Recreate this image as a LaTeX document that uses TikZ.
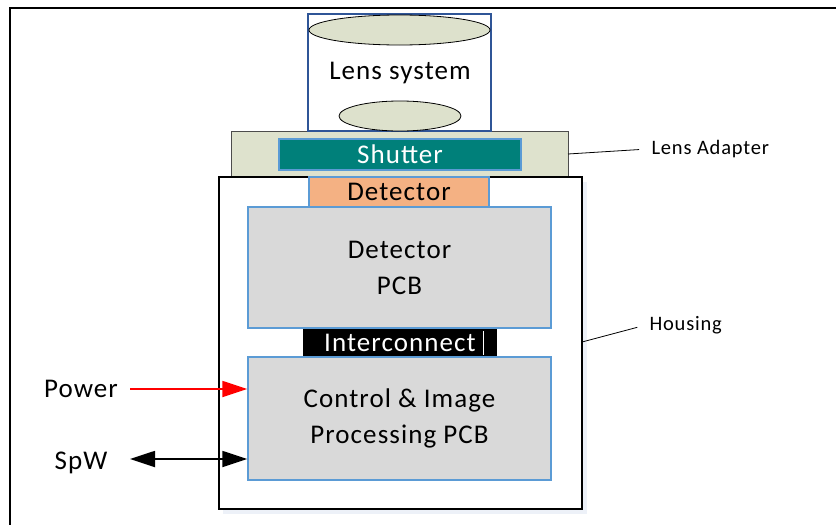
\documentclass[tikz,border=0pt]{standalone}
\usepackage{fontspec}
\setmainfont{Carlito}[LetterSpace=4]
\usetikzlibrary{arrows.meta,shapes.geometric}
\definecolor{lensblue}{HTML}{2F5597}
\definecolor{lensgrey}{HTML}{DDE1CC}
\definecolor{adaptfill}{HTML}{DEE2CD}
\definecolor{shutterteal}{HTML}{00807A}
\definecolor{edgeblue}{HTML}{5B9BD5}
\definecolor{detorange}{HTML}{F4B183}
\definecolor{pcbgrey}{HTML}{D9D9D9}
\definecolor{shadowtint}{HTML}{EDF1F8}
\tikzset{
  big/.style={font=\fontsize{27}{33}\selectfont},
  small/.style={font=\fontsize{20.5}{24}\selectfont},
  block/.style={draw=edgeblue, line width=1.5pt, inner sep=0pt, align=center, big},
  lensdisc/.style={ellipse, draw=black, line width=0.8pt, fill=lensgrey, inner sep=0pt},
  leader/.style={draw=black, line width=0.8pt, shorten >=9pt},
  signal/.style={line width=1.8pt}
}
\begin{document}
\begin{tikzpicture}[x=1pt, y=-1pt]
\useasboundingbox (0,0) rectangle (836,525);

% outer frame (continues past the page edges)
\draw[line width=2pt] (10,526) -- (10,8) -- (837,8);

% lens adapter plate
\node[draw=black!70, line width=1pt, fill=adaptfill, minimum width=337pt, minimum height=46pt, inner sep=0pt]
  (adapter) at (399.5,154) {};
\node[block, fill=shutterteal, text=white, minimum width=242pt, minimum height=31pt]
  (shutter) at (400,154.5) {Shutter};

% lens system barrel with two lenses
\node[draw=lensblue, line width=2pt, fill=white, minimum width=183pt, minimum height=117pt, inner sep=0pt]
  (lens) at (399.5,72.5) {};
\node[lensdisc, minimum width=181pt, minimum height=30pt] (lenstop) at (399.5,30) {};
\node[lensdisc, minimum width=122pt, minimum height=30pt] (lensbot) at (400,116) {};
\node[big] (lenslabel) at (400,73) {Lens system};

% housing with a faint shadow
\fill[shadowtint] (223,182) rectangle (587,514);
\node[draw=black, line width=2pt, fill=white, minimum width=363pt, minimum height=332pt, inner sep=0pt]
  (housing) at (400.5,343) {};

% detector stack
\node[block, fill=detorange, minimum width=180pt, minimum height=30pt]
  (detector) at (399,192) {Detector};
\node[block, fill=pcbgrey, minimum width=303pt, minimum height=121pt]
  (detpcb) at (399.5,267.5) {Detector\\[3pt]PCB};
\node[fill=black, text=white, big, minimum width=194pt, minimum height=28pt, inner sep=0pt]
  (interconnect) at (400,343) {Interconnect};
\draw[white, line width=0.6pt] (483,331) -- (483,355);
\node[block, fill=pcbgrey, minimum width=303pt, minimum height=123pt]
  (ctrlpcb) at (399.5,418.5) {Control \& Image\\[3pt]Processing PCB};

% external signals
\node[big] (power) at (81,389) {Power};
\node[big] (spw) at (81,463) {SpW};
\coordinate (powerin) at (130,389);
\coordinate (spwend) at (130,459);
\draw[signal, red, -{Triangle[length=25pt, width=16pt]}] (powerin) -- (powerin -| ctrlpcb.west);
\draw[signal, {Triangle[length=25pt, width=16pt]}-{Triangle[length=25pt, width=16pt]}] (spwend) -- (spwend -| ctrlpcb.west);

% callouts
\node[small, anchor=west] (adaptlabel) at (648,149) {Lens Adapter};
\node[small, anchor=west] (houselabel) at (646,325) {Housing};
\draw[leader] (568,154) -- (adaptlabel.west);
\draw[leader] (582,342) -- (houselabel.west);
\end{tikzpicture}
\end{document}
